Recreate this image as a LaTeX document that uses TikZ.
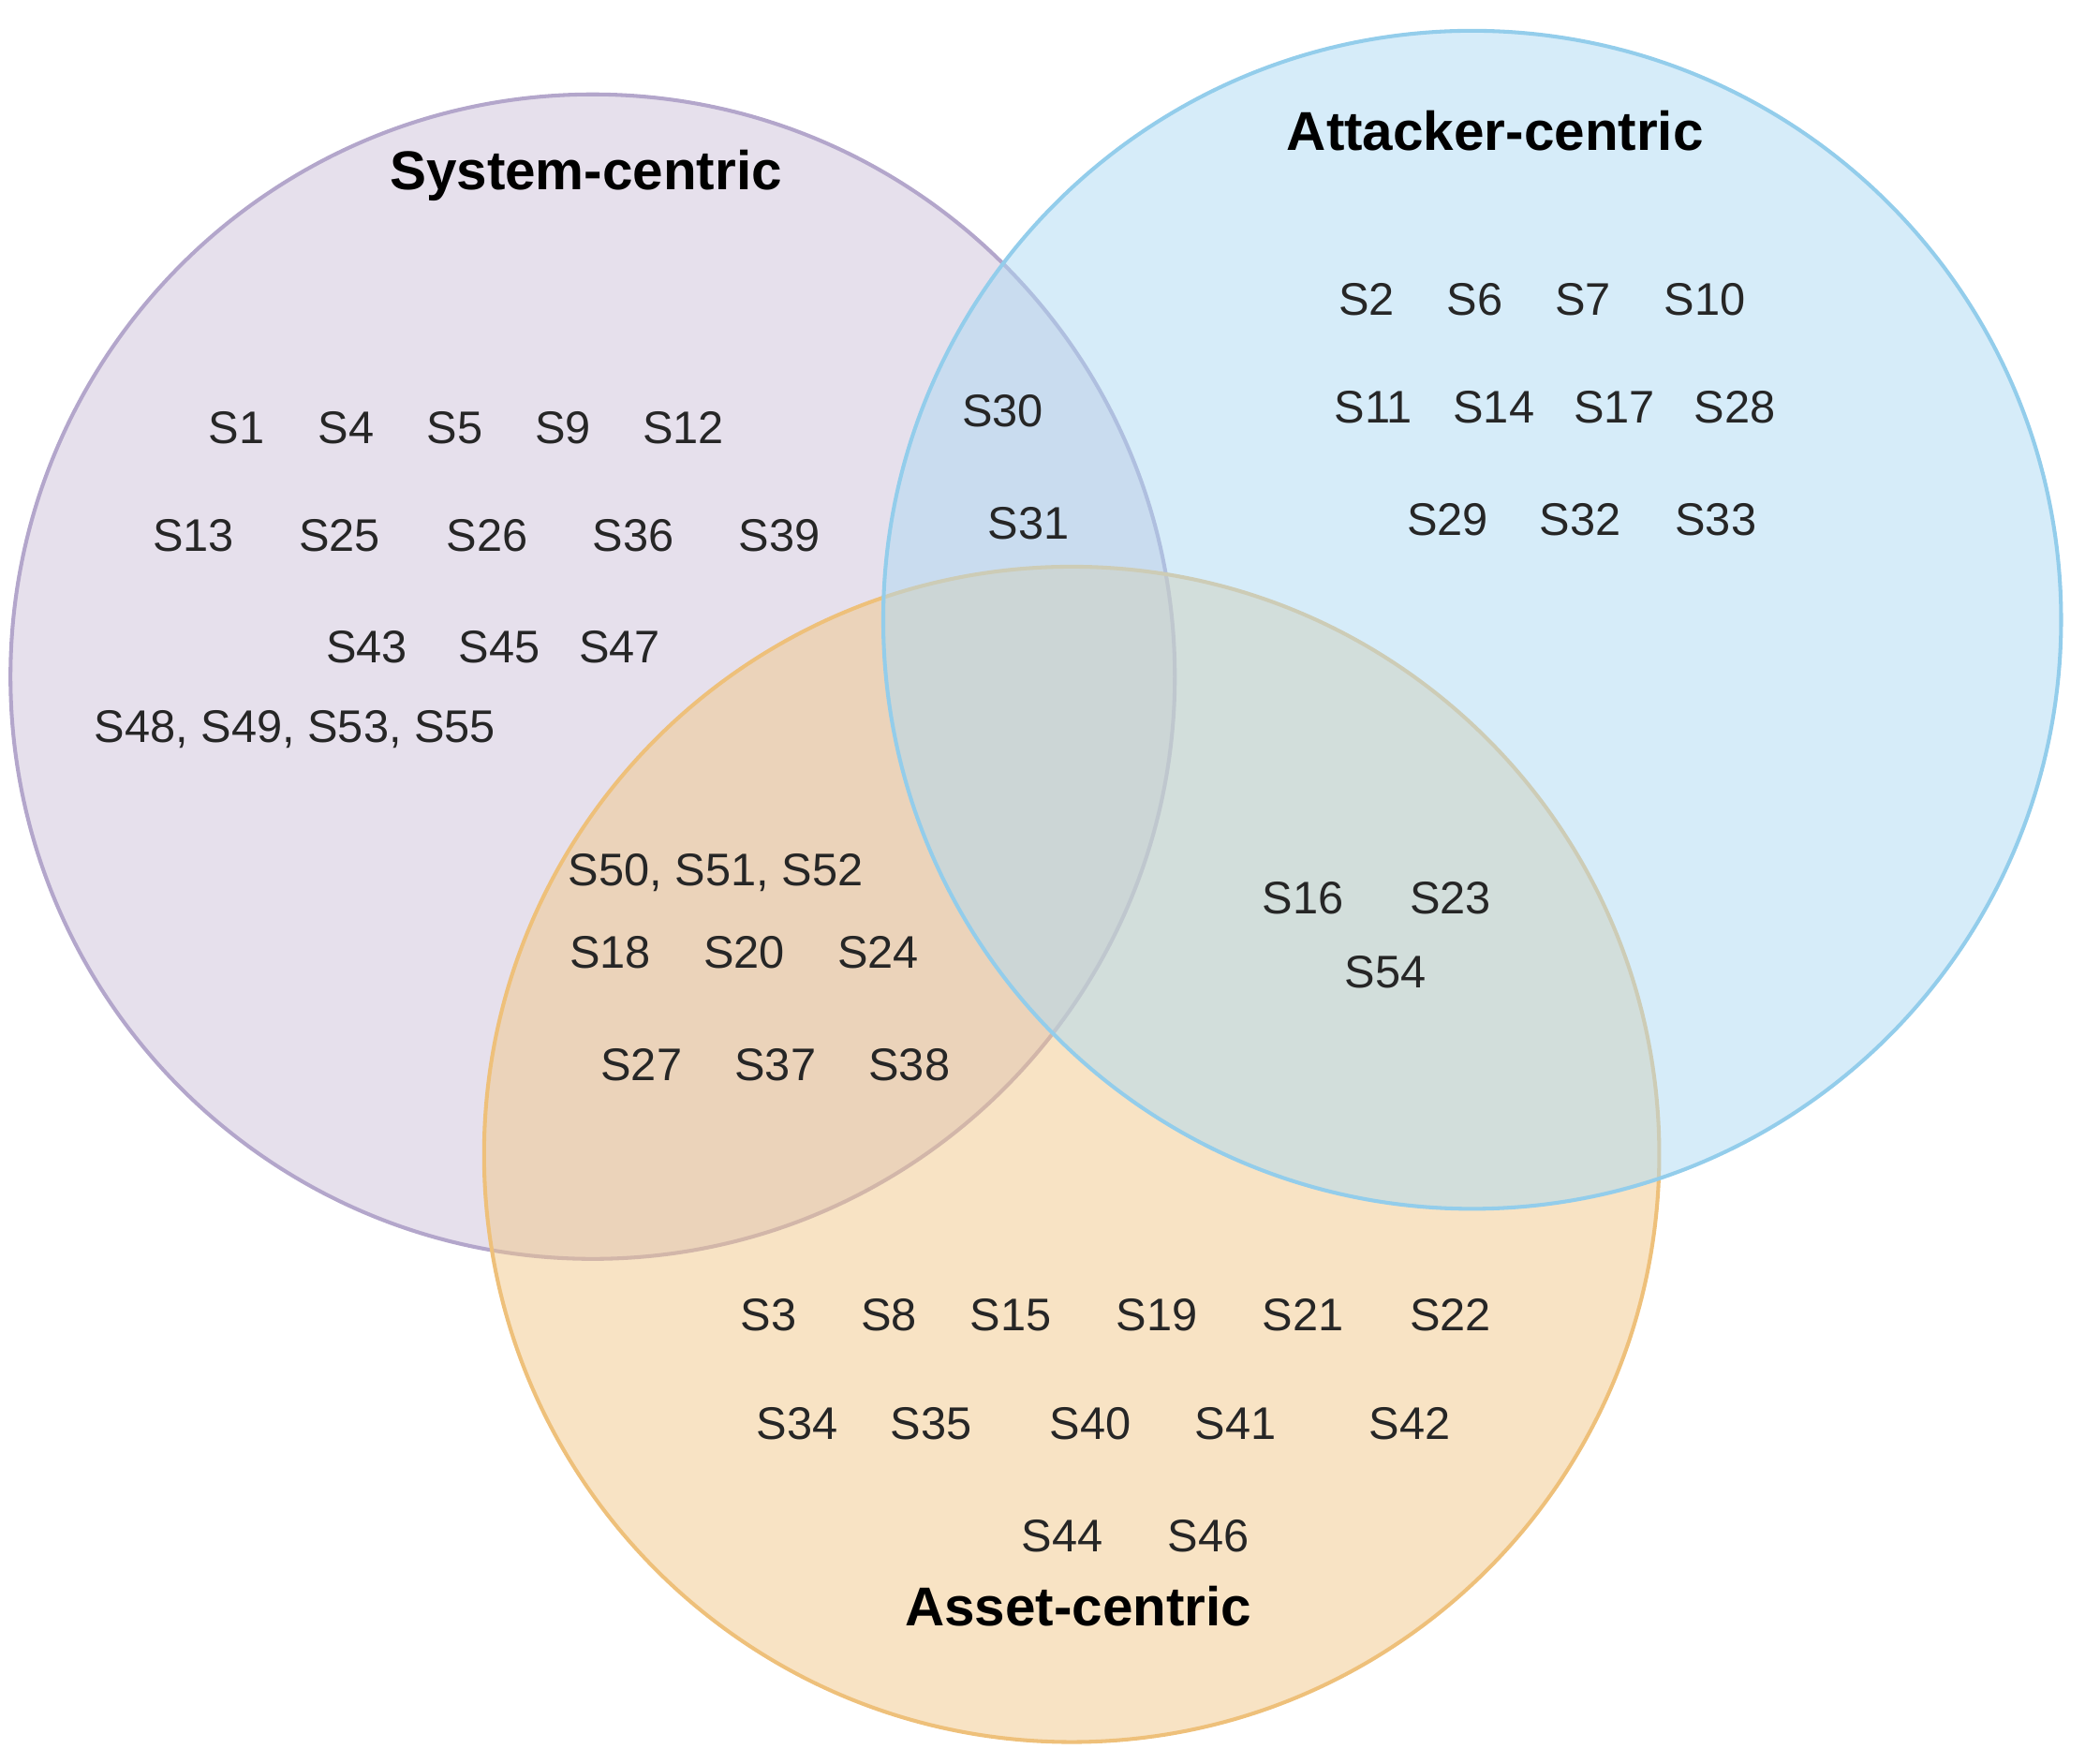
\documentclass[tikz,border=0pt]{standalone}
\usepackage{fontspec}
\setmainfont{Liberation Sans}
\begin{document}
\begin{tikzpicture}[x=0.01cm,y=-0.01cm,
  set/.style={circle,minimum size=#1,inner sep=0pt,line width=0.8pt,fill opacity=0.5,draw opacity=1},
  lab/.style={font=\fontsize{9.6}{11}\selectfont,text=black!85},
  ttl/.style={font=\fontsize{11.5}{13}\selectfont\bfseries}]
\useasboundingbox (0,0) rectangle (1552,1292);
\definecolor{sysF}{HTML}{CDC1D9}\definecolor{sysD}{HTML}{B3A6CB}
\definecolor{attF}{HTML}{ADD9F3}\definecolor{attD}{HTML}{93CDEB}
\definecolor{assF}{HTML}{F1C789}\definecolor{assD}{HTML}{EEC07A}
\node[set=8.6cm,fill=sysF,draw=sysD] (sys) at (438,500) {};
\node[set=8.68cm,fill=assF,draw=assD] (ass) at (792,853) {};
\node[set=8.7cm,fill=attF,draw=attD] (att) at (1088,458) {};
\node[ttl] (t1) at (433,130) {System-centric};
\node[ttl] (t2) at (1105,97) {Attacker-centric};
\node[ttl] (t3) at (797,1187) {Asset-centric};
\foreach \t/\x/\y [count=\i] in {S1/175/316,S4/256/316,S5/336/316,S9/416/316,S12/505/316,
 S13/143/396,S25/251/396,S26/360/396,S36/468/396,S39/576/396,
 S43/271/478,S45/369/478,S47/458/478,
 S30/741/304,S31/760/387,
 S2/1010/221,S6/1090/221,S7/1170/221,S10/1260/221,
 S11/1015/301,S14/1104/301,S17/1193/301,S28/1282/301,
 S29/1070/384,S32/1168/384,S33/1268/384,
 S18/451/704,S20/550/704,S24/649/704,
 S27/474/787,S37/573/787,S38/672/787,
 S16/963/664,S23/1072/664,S54/1024/718,
 S3/568/972,S8/657/972,S15/747/972,S19/855/972,S21/963/972,S22/1072/972,
 S34/589/1052,S35/688/1052,S40/806/1052,S41/913/1052,S42/1042/1052,
 S44/785/1135,S46/893/1135}
 \node[lab] (l\i) at (\x,\y) {\t};
\node[lab] (g1) at (218,539) {S48, S49, S53, S55};
\node[lab] (g2) at (529,645) {S50, S51, S52};
\end{tikzpicture}
\end{document}
